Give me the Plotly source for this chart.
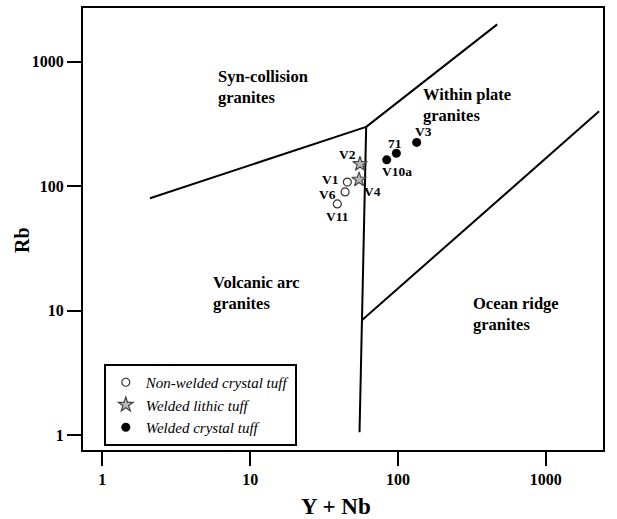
import math
import plotly.graph_objects as go

# ---- data ----
nonwelded_names = ["V1", "V6", "V11"]
nonwelded_x = [45.5, 43.9, 38.9]
nonwelded_y = [108, 90, 72]

lithic_names = ["V2", "V4"]
lithic_x = [55.4, 54.6]
lithic_y = [151, 113]

crystal_names = ["71", "V10a", "V3"]
crystal_x = [97.6, 84, 134]
crystal_y = [184, 163, 225]

# discrimination boundaries (Y+Nb, Rb)
syn_x, syn_y = [2.1, 61], [80, 300]
wpg_x, wpg_y = [61, 470], [300, 2000]
vert_x, vert_y = [55, 61], [1.05, 300]
org_x, org_y = [57.3, 2300], [8.4, 400]

tick_vals = [1, 10, 100, 1000]
tick_text = ["1", "10", "100", "1000"]

SERIF = "Liberation Serif, Times New Roman, serif"

fig = go.Figure()

for lx, ly in [(syn_x, syn_y), (wpg_x, wpg_y), (vert_x, vert_y), (org_x, org_y)]:
    fig.add_trace(go.Scatter(x=lx, y=ly, mode="lines",
                             line=dict(color="black", width=2),
                             showlegend=False, hoverinfo="skip"))

fig.add_trace(go.Scatter(x=nonwelded_x, y=nonwelded_y, mode="markers",
                         name="Non-welded crystal tuff",
                         marker=dict(symbol="circle-open", size=8, color="#333",
                                     line=dict(width=1.2, color="#333"))))
fig.add_trace(go.Scatter(x=lithic_x, y=lithic_y, mode="markers",
                         name="Welded lithic tuff",
                         marker=dict(symbol="star", size=11, color="#b8b8b8",
                                     line=dict(width=1.2, color="#444"))))
fig.add_trace(go.Scatter(x=crystal_x, y=crystal_y, mode="markers",
                         name="Welded crystal tuff",
                         marker=dict(symbol="circle", size=9, color="black")))

# point labels with pixel offsets
offsets = {
    "V1": (-17, 3), "V6": (-18, -3), "V11": (0, -13),
    "V2": (-12, 9), "V4": (13, -12),
    "71": (-1, 10), "V10a": (10, -12), "V3": (7, 11),
}
for names, xs, ys in [(nonwelded_names, nonwelded_x, nonwelded_y),
                      (lithic_names, lithic_x, lithic_y),
                      (crystal_names, crystal_x, crystal_y)]:
    for n, xv, yv in zip(names, xs, ys):
        dx, dy = offsets[n]
        fig.add_annotation(x=math.log10(xv), y=math.log10(yv), text="<b>%s</b>" % n,
                           showarrow=False, xshift=dx, yshift=dy,
                           font=dict(family=SERIF, size=13.5, color="black"))

# region labels
regions = [
    ("Syn-collision<br>granites", 5.88, 631),
    ("Within plate<br>granites", 143, 450),
    ("Volcanic arc<br>granites", 5.41, 13.9),
    ("Ocean ridge<br>granites", 312, 9.4),
]
for txt, xv, yv in regions:
    fig.add_annotation(x=math.log10(xv), y=math.log10(yv), text="<b>%s</b>" % txt,
                       showarrow=False, xanchor="left", yanchor="middle", align="left",
                       font=dict(family=SERIF, size=16.5, color="black"))

# axis titles
fig.add_annotation(xref="paper", yref="paper", x=0.4865, y=-0.128,
                   text="<b>Y + Nb</b>", showarrow=False,
                   xanchor="center", yanchor="middle",
                   font=dict(family=SERIF, size=23, color="black"))
fig.add_annotation(xref="paper", yref="paper", x=-0.1173, y=0.475,
                   text="<b>Rb</b>", showarrow=False, textangle=-90,
                   xanchor="center", yanchor="middle",
                   font=dict(family=SERIF, size=20, color="black"))

axis_common = dict(type="log", showgrid=False, zeroline=False,
                   showline=True, linecolor="black", linewidth=2, mirror=True,
                   ticks="outside", ticklen=14, tickwidth=2, tickcolor="black",
                   tickvals=tick_vals, ticktext=["<b>%s</b>" % t for t in tick_text],
                   tickfont=dict(family=SERIF, size=16, color="black"),
                   automargin=False)

fig.update_layout(
    width=617, height=519,
    margin=dict(l=83, r=14, t=8, b=69),
    paper_bgcolor="white", plot_bgcolor="white",
    xaxis=dict(range=[-0.131, 3.388], **axis_common),
    yaxis=dict(range=[-0.121, 3.433], **axis_common),
    legend=dict(x=0.04, y=0.1946, xanchor="left", yanchor="top",
                bgcolor="white", bordercolor="black", borderwidth=2,
                font=dict(family=SERIF, size=15, color="black", style="italic"),
                itemwidth=30, tracegroupgap=0),
    showlegend=True,
)

fig.write_html("out.html", config={"displayModeBar": False},
               post_script="document.body.style.margin='0';document.body.style.overflow='hidden';")
